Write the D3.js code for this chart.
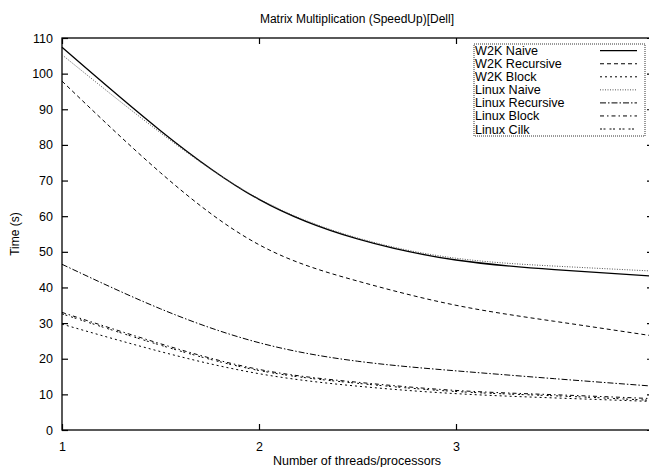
<!DOCTYPE html>
<html>
<head>
  <meta charset="utf-8">
  <script src="https://cdn.jsdelivr.net/npm/d3@7"></script>
  <style>
    body { margin: 0; background: #fff; }
    text { font-family: "Liberation Sans", Arial, sans-serif; fill: #000; }
  </style>
</head>
<body>
  <svg id="chart" width="649" height="467"></svg>
  <script>
    // values
    var threads = [1, 1.5, 2, 2.5, 3, 3.5, 4];
    var seriesNames = ["W2K Naive", "W2K Recursive", "W2K Block", "Linux Naive", "Linux Recursive", "Linux Block", "Linux Cilk"];
    var w2kNaive       = [107.4, 84.0, 64.7, 53.6, 47.7, 45.0, 43.2];
    var w2kRecursive   = [97.9, 72.2, 52.0, 41.8, 35.0, 30.5, 26.4];
    var w2kBlock       = [29.7, 22.0, 15.8, 12.3, 10.2, 9.0, 8.0];
    var linuxNaive     = [105.3, 83.4, 64.9, 53.9, 48.2, 46.0, 44.6];
    var linuxRecursive = [46.5, 34.0, 24.5, 19.3, 16.6, 14.4, 12.3];
    var linuxBlock     = [33.0, 24.2, 17.0, 13.4, 11.1, 9.9, 8.8];
    var linuxCilk      = [32.6, 23.8, 16.7, 13.1, 10.8, 9.6, 8.3];
    var xTicks = [1, 2, 3];
    var yTicks = [0, 10, 20, 30, 40, 50, 60, 70, 80, 90, 100, 110];

    var allSeries = [w2kNaive, w2kRecursive, w2kBlock, linuxNaive, linuxRecursive, linuxBlock, linuxCilk];
    var dashes = ["none", "4,3", "2,3", "1,1.5", "6,2,1.5,2", "4,3,1.5,3", "2,1.5,2,4"];
    var strokes = ["#000", "#000", "#000", "#555", "#000", "#000", "#000"];

    var svg = d3.select("#chart");
    var plotLeft = 62, plotRight = 653, plotTop = 38, plotBottom = 430;

    var x = d3.scaleLinear().domain([1, 4]).range([plotLeft, plotRight]);
    var y = d3.scaleLinear().domain([0, 110]).range([plotBottom, plotTop]);

    // frame
    svg.append("rect")
      .attr("x", plotLeft).attr("y", plotTop)
      .attr("width", plotRight - plotLeft).attr("height", plotBottom - plotTop)
      .attr("fill", "none").attr("stroke", "#000").attr("stroke-width", 1.3);

    // inward ticks, left/right and bottom/top
    var yAxisL = d3.axisLeft(y).tickValues(yTicks).tickSizeInner(-6).tickSizeOuter(0).tickPadding(9);
    var gy = svg.append("g").attr("transform", "translate(" + plotLeft + ",0)").call(yAxisL);
    var yAxisR = d3.axisRight(y).tickValues(yTicks).tickSizeInner(-6).tickSizeOuter(0).tickFormat("");
    var gyr = svg.append("g").attr("transform", "translate(" + plotRight + ",0)").call(yAxisR);
    var xAxisB = d3.axisBottom(x).tickValues(xTicks).tickFormat(d3.format("d")).tickSizeInner(-6).tickSizeOuter(0).tickPadding(12);
    var gx = svg.append("g").attr("transform", "translate(0," + plotBottom + ")").call(xAxisB);
    var xAxisT = d3.axisTop(x).tickValues(xTicks).tickSizeInner(-6).tickSizeOuter(0).tickFormat("");
    var gxt = svg.append("g").attr("transform", "translate(0," + plotTop + ")").call(xAxisT);

    [gy, gyr, gx, gxt].forEach(function(g) {
      g.select(".domain").remove();
      g.selectAll(".tick line").attr("stroke", "#000").attr("stroke-width", 1.2);
      g.selectAll("text").style("font-family", "Liberation Sans, Arial, sans-serif").style("font-size", "12.5px").attr("fill", "#000");
    });

    // lines
    var line = d3.line()
      .x(function(d, i) { return x(threads[i]); })
      .y(function(d) { return y(d); })
      .curve(d3.curveNatural);

    svg.selectAll("path.series")
      .data(allSeries)
      .enter()
      .append("path")
      .attr("class", "series")
      .attr("d", line)
      .attr("fill", "none")
      .attr("stroke", function(d, i) { return strokes[i]; })
      .attr("stroke-width", function(d, i) { return i == 0 ? 1.3 : 1; })
      .attr("stroke-dasharray", function(d, i) { return dashes[i]; });

    // legend
    svg.append("rect")
      .attr("x", 474).attr("y", 44).attr("width", 171).attr("height", 92)
      .attr("fill", "#fff").attr("stroke", "#000").attr("stroke-width", 0.8)
      .attr("stroke-dasharray", "1,1");

    var legend = svg.selectAll("g.legend-item")
      .data(seriesNames)
      .enter()
      .append("g")
      .attr("class", "legend-item")
      .attr("transform", function(d, i) { return "translate(0," + (50.7 + i * 13.05) + ")"; });

    legend.append("text")
      .attr("x", 475).attr("dy", "0.36em")
      .style("font-size", "12.6px")
      .text(function(d) { return d; });

    legend.append("line")
      .attr("x1", 600).attr("x2", 637)
      .attr("stroke", function(d, i) { return strokes[i]; })
      .attr("stroke-width", function(d, i) { return i == 0 ? 1.3 : 1; })
      .attr("stroke-dasharray", function(d, i) { return dashes[i]; });

    // titles
    svg.append("text")
      .attr("x", 357).attr("y", 23)
      .attr("text-anchor", "middle")
      .style("font-size", "12px")
      .text("Matrix Multiplication (SpeedUp)[Dell]");

    svg.append("text")
      .attr("x", 357).attr("y", 465)
      .attr("text-anchor", "middle")
      .style("font-size", "12.5px")
      .text("Number of threads/processors");

    svg.append("text")
      .attr("transform", "translate(19,234) rotate(-90)")
      .attr("text-anchor", "middle")
      .style("font-size", "12px")
      .text("Time (s)");
  </script>
</body>
</html>
